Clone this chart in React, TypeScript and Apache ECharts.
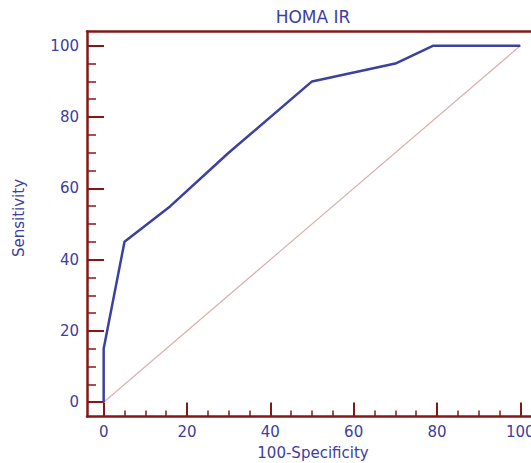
import React, { useEffect, useRef } from "react";
import * as echarts from "echarts";

const chartTitle = "HOMA IR";
const xAxisName = "100-Specificity";
const yAxisName = "Sensitivity";

// ROC curve points (100-Specificity, Sensitivity)
const rocX = [0, 0, 5, 16, 30, 50, 70, 79, 100];
const rocY = [0, 15, 45, 55, 70, 90, 95, 100, 100];

// reference diagonal
const diagX = [0, 100];
const diagY = [0, 100];

const majorTicks = [0, 20, 40, 60, 80, 100];
const minorTicks = [5, 10, 15, 25, 30, 35, 45, 50, 55, 65, 70, 75, 85, 90, 95];

const AXIS_COLOR = "#841818";
const BLUE = "#3C40A0";
const FONT = "DejaVu Sans";

export default function App() {
  const ref = useRef<HTMLDivElement>(null);

  useEffect(() => {
    if (!ref.current) return;
    const chart = echarts.init(ref.current, undefined, { renderer: "svg" });

    const baseAxis = {
      type: "value" as const,
      min: -4,
      max: 104,
      splitLine: { show: false },
    };

    const option = {
      animation: false,
      backgroundColor: "#ffffff",
      grid: { left: 87, top: 31.5, width: 450, height: 385, containLabel: false },
      xAxis: [
        {
          ...baseAxis,
          position: "bottom",
          axisLine: { show: true, onZero: false, lineStyle: { color: AXIS_COLOR, width: 2.5 } },
          axisTick: {
            show: true,
            inside: true,
            length: 14,
            customValues: majorTicks,
            lineStyle: { color: AXIS_COLOR, width: 2 },
          },
          axisLabel: {
            show: true,
            customValues: majorTicks,
            margin: 8,
            color: BLUE,
            fontSize: 15,
            fontFamily: FONT,
          },
        },
        {
          ...baseAxis,
          position: "bottom",
          axisLine: { show: false, onZero: false },
          axisTick: {
            show: true,
            inside: true,
            length: 6,
            customValues: minorTicks,
            lineStyle: { color: AXIS_COLOR, width: 1.5 },
          },
          axisLabel: { show: false },
        },
        {
          ...baseAxis,
          position: "top",
          axisLine: { show: true, onZero: false, lineStyle: { color: AXIS_COLOR, width: 2.5 } },
          axisTick: { show: false },
          axisLabel: { show: false },
        },
      ],
      yAxis: [
        {
          ...baseAxis,
          position: "left",
          axisLine: { show: true, onZero: false, lineStyle: { color: AXIS_COLOR, width: 2.5 } },
          axisTick: {
            show: true,
            inside: true,
            length: 17,
            customValues: majorTicks,
            lineStyle: { color: AXIS_COLOR, width: 2 },
          },
          axisLabel: {
            show: true,
            customValues: majorTicks,
            margin: 8,
            color: BLUE,
            fontSize: 15,
            fontFamily: FONT,
          },
        },
        {
          ...baseAxis,
          position: "left",
          axisLine: { show: false, onZero: false },
          axisTick: {
            show: true,
            inside: true,
            length: 9,
            customValues: minorTicks,
            lineStyle: { color: AXIS_COLOR, width: 1.5 },
          },
          axisLabel: { show: false },
        },
      ],
      series: [
        {
          type: "line",
          xAxisIndex: 0,
          yAxisIndex: 0,
          data: diagX.map((x, i) => [x, diagY[i]]),
          showSymbol: false,
          symbol: "none",
          lineStyle: { color: "#DDB0B0", width: 1.2 },
          z: 2,
          silent: true,
        },
        {
          type: "line",
          xAxisIndex: 0,
          yAxisIndex: 0,
          data: rocX.map((x, i) => [x, rocY[i]]),
          showSymbol: false,
          symbol: "none",
          lineStyle: { color: BLUE, width: 2.5 },
          z: 3,
          silent: true,
        },
      ],
      graphic: [
        {
          type: "text",
          x: 313,
          y: 17,
          style: {
            text: chartTitle,
            fill: BLUE,
            font: `17px "${FONT}"`,
            textAlign: "center",
            textVerticalAlign: "middle",
          },
        },
        {
          type: "text",
          x: 313,
          y: 453,
          style: {
            text: xAxisName,
            fill: BLUE,
            font: `15px "${FONT}"`,
            textAlign: "center",
            textVerticalAlign: "middle",
          },
        },
        {
          type: "text",
          x: 19,
          y: 218,
          rotation: Math.PI / 2,
          style: {
            text: yAxisName,
            fill: BLUE,
            font: `15px "${FONT}"`,
            textAlign: "center",
            textVerticalAlign: "middle",
          },
        },
      ],
    };

    chart.setOption(option as any);
    return () => chart.dispose();
  }, []);

  return (
    <div
      style={{
        position: "absolute",
        left: 0,
        top: 0,
        width: 531,
        height: 463,
        overflow: "hidden",
      }}
    >
      <div ref={ref} style={{ width: 545, height: 463 }} />
    </div>
  );
}
